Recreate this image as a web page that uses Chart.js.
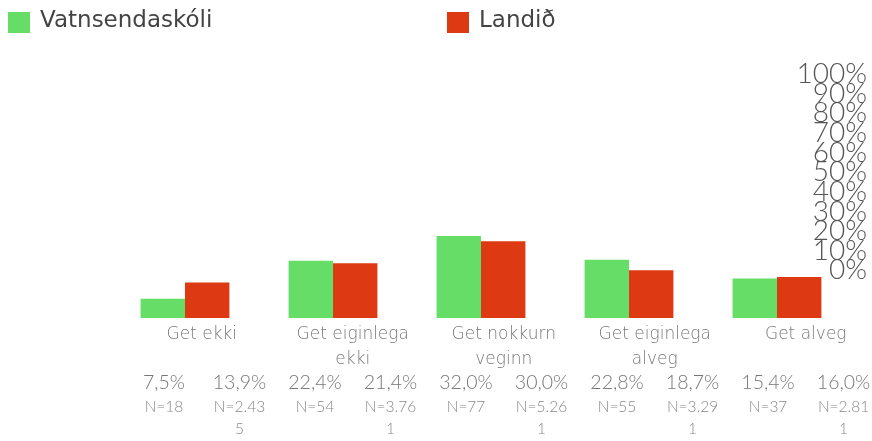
<!DOCTYPE html>
<html>
<head>
<meta charset="utf-8">
<script src="https://cdn.jsdelivr.net/npm/chart.js@4"></script>
<style>
  html, body { margin: 0; padding: 0; background: #fff; }
  #wrap { position: relative; width: 872px; height: 441px; }
  .legend { position: absolute; top: 6px; left: 0; font-family: "DejaVu Sans", "Open Sans", sans-serif; font-weight: 400; font-size: 23px; color: #444; }
  .legend span.item { position: absolute; white-space: nowrap; }
  .legend span.box { position: absolute; top: 6px; width: 22px; height: 21px; }
</style>
</head>
<body>
<div id="wrap">
  <canvas id="chart" width="872" height="441"></canvas>
  <div class="legend" id="legend"></div>
</div>
<script>
const categories = [['Get ekki'], ['Get eiginlega', 'ekki'], ['Get nokkurn', 'veginn'], ['Get eiginlega', 'alveg'], ['Get alveg']];
const seriesNames = ['Vatnsendaskóli', 'Landið'];
const vatnValues = [7.5, 22.4, 32.0, 22.8, 15.4];
const landValues = [13.9, 21.4, 30.0, 18.7, 16.0];
const vatnN = ['18', '54', '77', '55', '37'];
const landN = ['2.435', '3.761', '5.261', '3.291', '2.811'];
const yTicks = [0, 10, 20, 30, 40, 50, 60, 70, 80, 90, 100];
const colors = ['#66dd66', '#dd3913'];

const lato = 'Lato, "Open Sans", sans-serif';
const dejavu = '"DejaVu Sans", "Open Sans", sans-serif';

// legend (html, placed like the reference)
const legendPos = [8, 447];
const legend = document.getElementById('legend');
seriesNames.forEach((name, i) => {
    const item = document.createElement('span');
    item.className = 'item';
    item.style.left = legendPos[i] + 'px';
    item.innerHTML = '<span class="box" style="left:0;background:' + colors[i] + '"></span>' +
        '<span style="position:absolute;left:32px;top:0px">' + name + '</span>';
    legend.appendChild(item);
});

function pct(v) {
    return v.toFixed(1).replace('.', ',') + '%';
}
function nLabel(s) {
    const t = 'N=' + s;
    return t.length > 6 ? [t.slice(0, 6), t.slice(6)] : t;
}
// interleaved per-bar columns under the axis
const pctLabels = [];
const nLabels = [];
vatnValues.forEach((v, i) => {
    pctLabels.push(pct(v), pct(landValues[i]));
    nLabels.push(nLabel(vatnN[i]), nLabel(landN[i]));
});
const columnIdx = pctLabels.map((_, i) => i);
// category names sit centred over each pair of columns
const catIdx = categories.map((_, i) => i * 2 + 0.5);

// keep edge labels from pushing the plot area around, fix box heights
const noPad = axis => {
    axis.paddingLeft = 0;
    axis.paddingRight = 0;
    axis.paddingTop = 0;
    axis.paddingBottom = 0;
};
const fixHeight = h => axis => { noPad(axis); axis.height = h; };

// the label grid below the plot is a bit wider than the plot itself
const colMin = -0.702;
const colMax = 9.099;

const ctx = document.getElementById('chart').getContext('2d');
new Chart(ctx, {
    type: 'bar',
    data: {
        labels: categories,
        datasets: [
            { label: seriesNames[0], data: vatnValues, backgroundColor: colors[0], categoryPercentage: 0.6, barPercentage: 1.0 },
            { label: seriesNames[1], data: landValues, backgroundColor: colors[1], categoryPercentage: 0.6, barPercentage: 1.0 }
        ]
    },
    options: {
        responsive: false,
        animation: false,
        layout: { padding: { top: 62, left: 111, right: 5, bottom: 0 } },
        plugins: { legend: { display: false }, tooltip: { enabled: false } },
        scales: {
            x: {
                display: false
            },
            xCat: {
                type: 'linear',
                position: 'bottom',
                weight: 1,
                offset: false,
                min: colMin,
                max: colMax,
                afterBuildTicks: axis => { axis.ticks = catIdx.map(v => ({ value: v })); },
                afterFit: fixHeight(52),
                grid: { display: false, drawTicks: false },
                border: { display: false },
                ticks: {
                    padding: 4,
                    maxRotation: 0,
                    autoSkip: false,
                    color: '#777',
                    font: { family: dejavu, size: 17, weight: 200, lineHeight: 25 / 17 },
                    callback: v => categories[(v - 0.5) / 2]
                }
            },
            xPct: {
                type: 'linear',
                position: 'bottom',
                weight: 2,
                offset: false,
                min: colMin,
                max: colMax,
                afterBuildTicks: axis => { axis.ticks = columnIdx.map(v => ({ value: v })); },
                afterFit: fixHeight(24),
                grid: { display: false, drawTicks: false },
                border: { display: false },
                ticks: {
                    padding: 2,
                    maxRotation: 0,
                    autoSkip: false,
                    color: '#777',
                    font: { family: lato, size: 19.5, weight: 300, lineHeight: 22 / 19.5 },
                    callback: v => pctLabels[v]
                }
            },
            xN: {
                type: 'linear',
                position: 'bottom',
                weight: 3,
                offset: false,
                min: colMin,
                max: colMax,
                afterBuildTicks: axis => { axis.ticks = columnIdx.map(v => ({ value: v })); },
                afterFit: fixHeight(47),
                grid: { display: false, drawTicks: false },
                border: { display: false },
                ticks: {
                    padding: 2,
                    maxRotation: 0,
                    autoSkip: false,
                    color: '#888',
                    font: { family: lato, size: 15.5, weight: 300, lineHeight: 22 / 15.5 },
                    callback: v => nLabels[v]
                }
            },
            y: {
                display: false,
                min: 0,
                max: 100
            },
            yPct: {
                type: 'linear',
                position: 'right',
                min: -24.2,
                max: 106.1,
                afterBuildTicks: axis => { axis.ticks = yTicks.map(v => ({ value: v })); },
                afterFit: axis => { noPad(axis); axis.width = 16; },
                grid: { display: false, drawTicks: false },
                border: { display: false },
                ticks: {
                    mirror: true,
                    padding: 16,
                    autoSkip: false,
                    color: '#555',
                    font: { family: lato, size: 28, weight: 300 },
                    callback: v => v + '%'
                }
            }
        }
    }
});
</script>
</body>
</html>
